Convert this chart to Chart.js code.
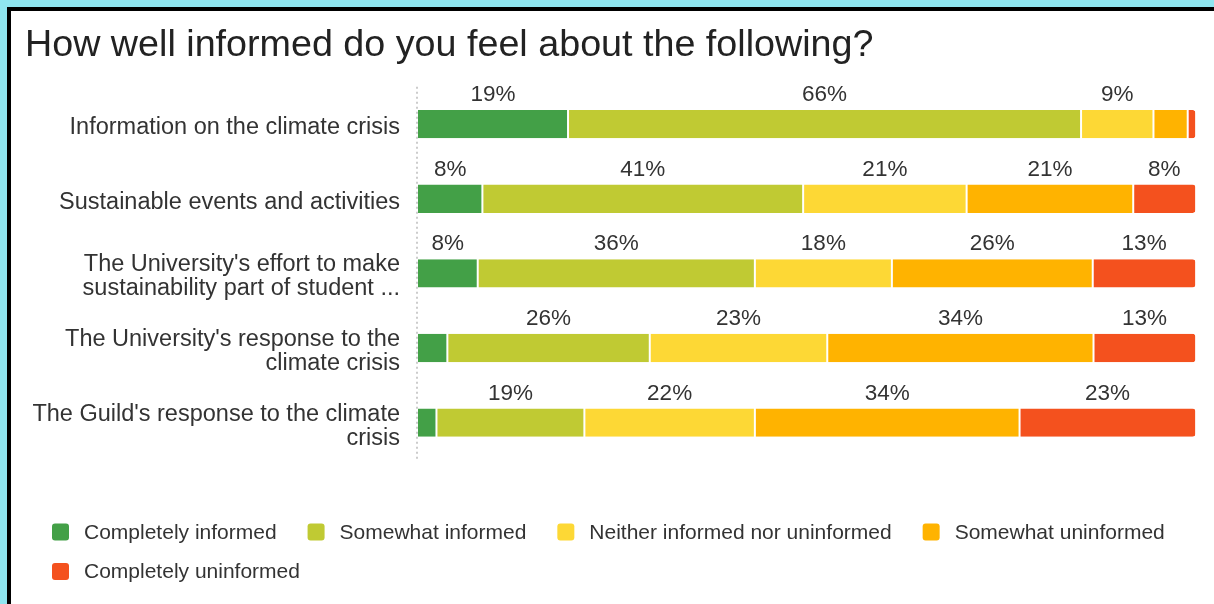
<!DOCTYPE html>
<html>
<head>
<meta charset="utf-8">
<script src="https://cdn.jsdelivr.net/npm/chart.js@4/dist/chart.umd.min.js"></script>
<style>
  html, body { margin: 0; padding: 0; width: 1214px; height: 604px; overflow: hidden; background: #8fe6f0; }
  #frame { position: absolute; left: 7px; top: 7px; width: 1207px; height: 597px; box-sizing: border-box;
           background: #fff; border-top: 4px solid #000; border-left: 4px solid #000; }
  #wrap { position: absolute; left: 11px; top: 11px; width: 1203px; height: 593px; }
</style>
</head>
<body>
<div id="frame"></div>
<div id="wrap"><canvas id="chart"></canvas></div>
<script>
// Survey questions (y categories)
const categories = [
  'Information on the climate crisis',
  'Sustainable events and activities',
  ["The University's effort to make", 'sustainability part of student ...'],
  ["The University's response to the", 'climate crisis'],
  ["The Guild's response to the climate", 'crisis']
];

// Answer options (stack order, left to right)
const seriesNames = [
  'Completely informed',
  'Somewhat informed',
  'Neither informed nor uninformed',
  'Somewhat uninformed',
  'Completely uninformed'
];
const seriesColors = ['#43a047', '#c0ca33', '#fdd835', '#ffb300', '#f4511e'];

// Share of respondents per answer, in percent
const completelyInformed   = [19.4,  8.4,  7.8,  3.9,  2.5];
const somewhatInformed     = [65.9, 41.2, 35.6, 26.0, 19.0];
const neitherInformed      = [ 9.3, 21.0, 17.6, 22.8, 21.9];
const somewhatUninformed   = [ 4.4, 21.4, 25.8, 34.2, 34.0];
const completelyUninformed = [ 1.0,  8.0, 13.2, 13.1, 22.6];

const seriesValues = [completelyInformed, somewhatInformed, neitherInformed, somewhatUninformed, completelyUninformed];

// Segments narrower than this get no percentage label
const labelThreshold = 5;

const FONT = '"Liberation Sans", Arial, sans-serif';
const TEXT = '#333333';

const datasets = seriesValues.map((vals, i) => {
  const last = i === seriesValues.length - 1;
  return {
    label: seriesNames[i],
    data: vals,
    backgroundColor: seriesColors[i],
    borderColor: '#ffffff',
    borderWidth: { top: 0, bottom: 0, left: i === 0 ? 0 : 1, right: last ? 0 : 1 },
    borderSkipped: false,
    borderRadius: last ? { topLeft: 0, bottomLeft: 0, topRight: 3, bottomRight: 3 } : 0,
    barPercentage: 0.38,
    categoryPercentage: 1.0
  };
});

// Percentage text above each bar segment
const segmentLabels = {
  id: 'segmentLabels',
  afterDatasetsDraw(chart) {
    const ctx = chart.ctx;
    ctx.save();
    ctx.font = '22.5px ' + FONT;
    ctx.fillStyle = TEXT;
    ctx.textAlign = 'center';
    ctx.textBaseline = 'alphabetic';
    chart.data.datasets.forEach((ds, di) => {
      const meta = chart.getDatasetMeta(di);
      meta.data.forEach((bar, i) => {
        const v = ds.data[i];
        if (v < labelThreshold) return;
        const cx = (bar.x + bar.base) / 2;
        ctx.fillText(Math.round(v) + '%', cx, bar.y - 23);
      });
    });
    ctx.restore();
  }
};

// Legend with square swatches, wrapping onto a second row
const swatchLegend = {
  id: 'swatchLegend',
  afterDraw(chart) {
    const ctx = chart.ctx;
    const box = 17, gapText = 15, gapItem = 31;
    const startX = 41, rowY = [521, 560.5], maxRight = 1190;
    ctx.save();
    ctx.font = '21px ' + FONT;
    ctx.textBaseline = 'middle';
    ctx.textAlign = 'left';
    let x = startX, row = 0;
    chart.data.datasets.forEach((ds) => {
      const w = box + gapText + ctx.measureText(ds.label).width;
      if (x !== startX && x + w > maxRight) { row++; x = startX; }
      const y = rowY[row];
      ctx.fillStyle = ds.backgroundColor;
      ctx.beginPath();
      ctx.roundRect(x, y - box / 2, box, box, 3);
      ctx.fill();
      ctx.fillStyle = TEXT;
      ctx.fillText(ds.label, x + box + gapText, y + 1);
      x += w + gapItem;
    });
    ctx.restore();
  }
};

function draw() {
  new Chart(document.getElementById('chart'), {
    type: 'bar',
    data: { labels: categories, datasets },
    plugins: [segmentLabels, swatchLegend],
    options: {
      indexAxis: 'y',
      responsive: true,
      maintainAspectRatio: false,
      animation: false,
      layout: { padding: { left: 14, right: 18.5, top: 0, bottom: 144 } },
      plugins: {
        legend: { display: false },
        tooltip: { enabled: false },
        title: {
          display: true,
          text: 'How well informed do you feel about the following?',
          align: 'start',
          color: '#222222',
          font: { family: FONT, size: 37.7, weight: 'normal', lineHeight: 1.2 },
          padding: { top: 11.5, bottom: 19 }
        }
      },
      scales: {
        x: {
          stacked: true,
          min: 0,
          max: 100,
          // dotted baseline at 0 only
          grid: {
            drawTicks: false,
            lineWidth: 2,
            color: (c) => (c.tick && c.tick.value === 0 ? '#cccccc' : 'rgba(0,0,0,0)')
          },
          border: { display: false, dash: [2, 3] },
          ticks: { display: false, stepSize: 100 }
        },
        y: {
          stacked: true,
          grid: { display: false, drawTicks: false },
          border: { display: false },
          ticks: {
            color: TEXT,
            padding: 17,
            labelOffset: 3.5,
            font: { family: FONT, size: 23.5, lineHeight: 1.03 }
          },
          afterFit(scale) { scale.width = 392; }
        }
      }
    }
  });
}

if (document.fonts && document.fonts.load) {
  Promise.all([
    document.fonts.load('23px "Liberation Sans"')
  ]).then(draw, draw);
} else {
  draw();
}
</script>
</body>
</html>
